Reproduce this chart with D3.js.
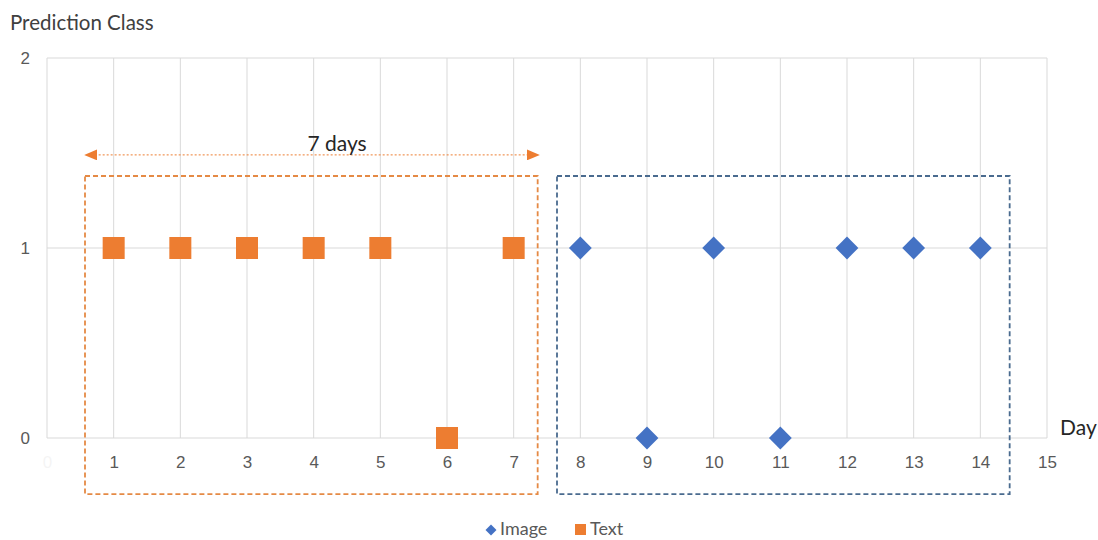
<!DOCTYPE html>
<html>
<head>
<meta charset="utf-8">
<script src="https://cdn.jsdelivr.net/npm/d3@7"></script>
<style>
  html, body { margin: 0; padding: 0; background: #fff; }
  svg { display: block; font-family: Lato, "Open Sans", sans-serif; }
</style>
</head>
<body>
<svg id="chart" width="1098" height="540"></svg>
<script>
// Daily prediction class for the two input types
const textDays   = [1, 2, 3, 4, 5, 6, 7];
const textValues = [1, 1, 1, 1, 1, 0, 1];
const imageDays   = [8, 9, 10, 11, 12, 13, 14];
const imageValues = [1, 0, 1, 0, 1, 1, 1];

const xTicks = [0, 1, 2, 3, 4, 5, 6, 7, 8, 9, 10, 11, 12, 13, 14, 15];
const yTicks = [0, 1, 2];

// Window regions (in data units) and the span label
const textWindow  = { x0: 0.57, x1: 7.36, y0: -0.295, y1: 1.379 };
const imageWindow = { x0: 7.65, x1: 14.44, y0: -0.295, y1: 1.379 };
const spanArrow   = { x0: 0.58, x1: 7.37, y: 1.49, label: "7 days" };

const orange = "#ED7D31";
const blue = "#4472C4";
const gridColor = "#d9d9d9";
const labelColor = "#595959";

const svg = d3.select("#chart");
const margin = { left: 47, right: 51, top: 58, bottom: 102 };
const W = 1098, H = 540;

const x = d3.scaleLinear().domain([0, 15]).range([margin.left, W - margin.right]);
const y = d3.scaleLinear().domain([0, 2]).range([H - margin.bottom, margin.top]);

// Gridlines
const grid = svg.append("g");
grid.selectAll("line.v").data(xTicks).join("line")
  .attr("x1", d => x(d)).attr("x2", d => x(d))
  .attr("y1", y(2)).attr("y2", y(0))
  .attr("stroke", gridColor).attr("stroke-width", 1);
grid.selectAll("line.h").data(yTicks).join("line")
  .attr("x1", x(0)).attr("x2", x(15))
  .attr("y1", d => y(d)).attr("y2", d => y(d))
  .attr("stroke", gridColor).attr("stroke-width", 1);

// Axes
const xAxis = d3.axisBottom(x).tickValues(xTicks).tickSize(0).tickPadding(18)
  .tickFormat(d3.format("d"));
const gx = svg.append("g").attr("transform", `translate(0,${y(0)})`).call(xAxis);
gx.select(".domain").remove();
gx.selectAll("text").attr("fill", labelColor).style("font-size", "17px")
  .attr("opacity", d => d === 0 ? 0.06 : 1);

const yAxis = d3.axisLeft(y).tickValues(yTicks).tickSize(0).tickPadding(17)
  .tickFormat(d3.format("d"));
const gy = svg.append("g").attr("transform", `translate(${x(0)},0)`).call(yAxis);
gy.select(".domain").remove();
gy.selectAll("text").attr("fill", labelColor).style("font-size", "17px");

// Axis titles
svg.append("text").attr("x", 10).attr("y", 30)
  .attr("fill", "#404040").style("font-size", "20.5px").text("Prediction Class");
svg.append("text").attr("x", 1060).attr("y", 435)
  .attr("fill", "#262626").style("font-size", "21px").text("Day");

// Window boxes
function windowBox(w, color) {
  svg.append("rect")
    .attr("x", x(w.x0)).attr("y", y(w.y1))
    .attr("width", x(w.x1) - x(w.x0)).attr("height", y(w.y0) - y(w.y1))
    .attr("fill", "none").attr("stroke", color).attr("stroke-width", 1.8)
    .attr("stroke-dasharray", "5,3");
}
windowBox(textWindow, "#E58A45");
windowBox(imageWindow, "#4A6B8F");

// Span arrow
const defs = svg.append("defs");
["start", "end"].forEach(k => {
  defs.append("marker").attr("id", "arrow-" + k)
    .attr("viewBox", "0 0 10 10").attr("refX", 5).attr("refY", 5)
    .attr("markerWidth", 13).attr("markerHeight", 11).attr("markerUnits", "userSpaceOnUse")
    .attr("orient", k === "start" ? "auto-start-reverse" : "auto")
    .attr("preserveAspectRatio", "none")
    .append("path").attr("d", "M0,0 L10,5 L0,10 Z").attr("fill", orange);
});
svg.append("line")
  .attr("x1", x(spanArrow.x0) + 5).attr("x2", x(spanArrow.x1) - 5)
  .attr("y1", y(spanArrow.y)).attr("y2", y(spanArrow.y))
  .attr("stroke", orange).attr("stroke-width", 1).attr("stroke-dasharray", "2,2")
  .attr("marker-start", "url(#arrow-start)").attr("marker-end", "url(#arrow-end)");
svg.append("text")
  .attr("x", (x(spanArrow.x0) + x(spanArrow.x1)) / 2 + 25).attr("y", y(spanArrow.y) - 4)
  .attr("text-anchor", "middle").attr("fill", "#262626").style("font-size", "21px")
  .text(spanArrow.label);

// Markers
const textData = textDays.map((d, i) => ({ day: d, v: textValues[i] }));
const imageData = imageDays.map((d, i) => ({ day: d, v: imageValues[i] }));

svg.append("g").selectAll("rect").data(textData).join("rect")
  .attr("x", d => x(d.day) - 11).attr("y", d => y(d.v) - 11)
  .attr("width", 22).attr("height", 22).attr("fill", orange);

const diamond = d3.symbol().type(d3.symbolSquare).size(260);
svg.append("g").selectAll("path").data(imageData).join("path")
  .attr("d", diamond)
  .attr("transform", d => `translate(${x(d.day)},${y(d.v)}) rotate(45)`)
  .attr("fill", blue);

// Legend
const legend = svg.append("g");
legend.append("path")
  .attr("d", d3.symbol().type(d3.symbolSquare).size(60))
  .attr("transform", "translate(491,530) rotate(45)").attr("fill", blue);
legend.append("text").attr("x", 500).attr("y", 535)
  .attr("fill", labelColor).style("font-size", "18px").text("Image");
legend.append("rect").attr("x", 575).attr("y", 524).attr("width", 11).attr("height", 11)
  .attr("fill", orange);
legend.append("text").attr("x", 590).attr("y", 535)
  .attr("fill", labelColor).style("font-size", "18px").text("Text");
</script>
</body>
</html>
